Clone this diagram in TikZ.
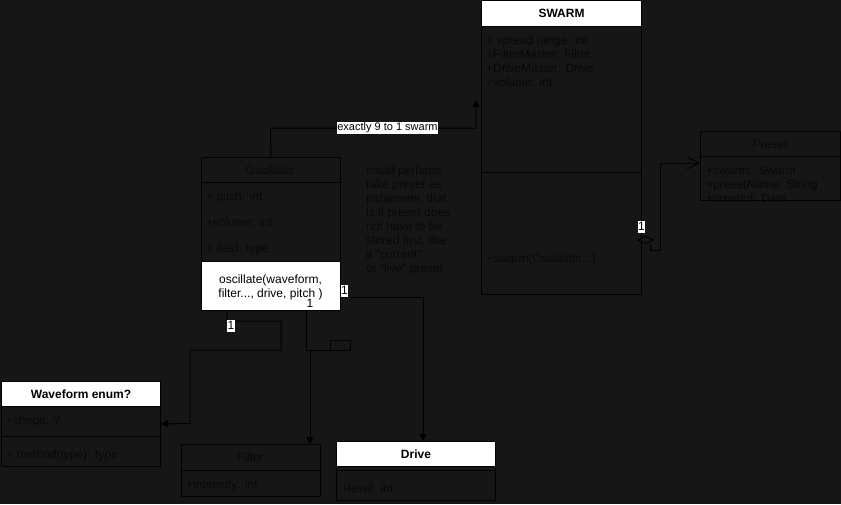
\documentclass[tikz,border=0pt]{standalone}
\usepackage{fontspec}
\setmainfont{Liberation Sans}
\usetikzlibrary{arrows.meta,shapes.geometric}
\definecolor{bgc}{RGB}{22,22,22}
\definecolor{txtc}{RGB}{8,8,8}
\begin{document}
\begin{tikzpicture}[x=1pt,y=-1pt,
  box/.style={draw=black,line width=1pt,inner sep=0,anchor=north west},
  hdr/.style={draw=black,line width=1pt,fill=white,inner sep=0,anchor=north west},
  ttl/.style={font=\fontsize{12}{14}\selectfont,text=txtc,inner sep=0,text height=8.6pt,text depth=0pt},
  bttl/.style={font=\fontsize{12}{14}\selectfont\bfseries,text=black,inner sep=0,text height=8.6pt,text depth=0pt},
  blk/.style={font=\fontsize{12}{14}\selectfont,text=black,inner sep=0,text height=8.6pt,text depth=0pt},
  attr/.style={font=\fontsize{12}{14}\selectfont,text=txtc,inner sep=0,anchor=west,text height=8.6pt,text depth=0pt},
  lbl/.style={font=\fontsize{11}{13}\selectfont,fill=white,text=black,inner sep=0.7pt},
  one/.style={font=\fontsize{12}{14}\selectfont,fill=white,text=black,inner xsep=0.3pt,inner ysep=0pt,text height=9.5pt,text depth=2.5pt},
  conn/.style={draw=black,line width=1pt},
  tri/.style={-{Triangle[length=7pt,width=7pt]}},
]
\fill[bgc] (0,0) rectangle (841,504);
\useasboundingbox (0,0) rectangle (841,504);

% ---------- SWARM ----------
\node[box,minimum width=160pt,minimum height=294pt] (swarm) at (481,0) {};
\node[hdr,minimum width=160pt,minimum height=26pt] (swarmh) at (481,0) {};
\node[bttl] (swarmt) at (swarmh.center) {SWARM};
\draw[conn] (481,172) -- (641,172);
\node[attr] (sa1) at (486,40) {+ spread range: int};
\node[attr] (sa2) at (486,54) {+FilterMaster: Filter};
\node[attr] (sa3) at (486,68) {+DriveMaster: Drive};
\node[attr] (sa4) at (486,82) {+volume: int};
\node[attr] (sm1) at (486,258) {+swarm(Oscillator...)};

% ---------- Preset ----------
\node[box,minimum width=140pt,minimum height=69pt] (preset) at (700,131) {};
\draw[conn] (700,156) -- (840,156);
\node[ttl] (presett) at (770,144) {Preset};
\node[attr] (pa1) at (706,170) {+swarm:\ \ Swarm};
\node[attr] (pa2) at (706,184) {+presetName: String};
\node[attr] (pa3) at (706,198) {+created: Date};

% ---------- Oscillator ----------
\node[box,minimum width=139pt,minimum height=153pt] (osc) at (201,157) {};
\draw[conn] (201,182) -- (340,182);
\node[ttl] (osct) at (270.5,170) {Oscillator};
\node[attr] (oa1) at (206,196) {+ pitch: int};
\node[attr] (oa2) at (206,222) {+volume: int};
\node[attr] (oa3) at (206,248) {+ field: type};
\node[hdr,minimum width=139pt,minimum height=49pt] (oscm) at (201,261) {};
\node[blk] (om1) at (270.5,279) {oscillate(waveform,};
\node[blk] (om2) at (270.5,293) {filter..., drive, pitch )};

% ---------- note ----------
\node[attr] (note0) at (366,170) {could perhaps};
\node[attr] (note1) at (366,184) {take preset as};
\node[attr] (note2) at (366,198) {parameter, that};
\node[attr] (note3) at (366,212) {is if preset does};
\node[attr] (note4) at (366,226) {not have to be};
\node[attr] (note5) at (366,240) {stored first, like};
\node[attr] (note6) at (366,254) {a "current"};
\node[attr] (note7) at (366,268) {or "live" preset};

% ---------- Waveform enum? ----------
\node[box,minimum width=159pt,minimum height=85pt] (wf) at (1,381) {};
\node[hdr,minimum width=159pt,minimum height=25pt] (wfh) at (1,381) {};
\node[bttl] (wft) at (wfh.center) {Waveform enum?};
\draw[conn] (1,436) -- (160,436);
\node[attr] (wa1) at (6,420) {+shape: ?};
\node[attr] (wa2) at (6,454) {+ method(type): type};

% ---------- Filter ----------
\node[box,minimum width=139pt,minimum height=52pt] (filter) at (181,444) {};
\draw[conn] (181,470) -- (320,470);
\node[ttl] (filtert) at (250.5,457) {Filter};
\node[attr] (fa1) at (186,484) {+intensity: int};

% ---------- Drive ----------
\node[box,minimum width=159pt,minimum height=59pt] (drive) at (336,441) {};
\node[hdr,minimum width=159pt,minimum height=25pt] (driveh) at (336,441) {};
\node[bttl] (drivet) at (driveh.center) {Drive};
\draw[conn] (336,470) -- (495,470);
\node[attr] (da1) at (341,488) {+level: int};

% ---------- connectors ----------
\coordinate (swarmIn) at (476,100);
\draw[conn,tri] (osc.north) -- (270.5,128) -- (476,128) -- (swarmIn);
\node[lbl] (l9) at (387.5,128) {exactly 9 to 1 swarm};

% aggregation to Preset
\node[draw=black,line width=1pt,fill=bgc,diamond,aspect=2,inner sep=0,minimum width=15pt,minimum height=7.5pt] (agg) at (645.5,240) {};
\draw[conn,-{Straight Barb[length=12pt,width=12pt]}] (agg.south -| 650,0) -- (650,250) -- (660,250) -- (660,163) -- (preset.west |- 0,163);
\node[one] (l1p) at (641.5,227) {1};

% to Waveform
\draw[conn,tri] (oscm.south -| 227,0) -- (227,321) -- (281,321) -- (281,350) -- (190,350) -- (190,423.5) -- (wf.east);
\node[one] (l1w) at (231,325.5) {1};

% to Filter
\draw[conn,tri] (oscm.south -| 306,0) -- (306,350) -- (350,350) -- (350,340) -- (330,340) -- (330,350) -- (310,350) -- (filter.north -| 310,0);

% to Drive
\draw[conn,tri] (oscm.east |- 0,297) -- (423,297) -- (drive.north -| 423,0);
\node[one] (l1d) at (344.5,290.5) {1};
\node[blk] (l1o) at (310,303.5) {1};
\end{tikzpicture}
\end{document}
